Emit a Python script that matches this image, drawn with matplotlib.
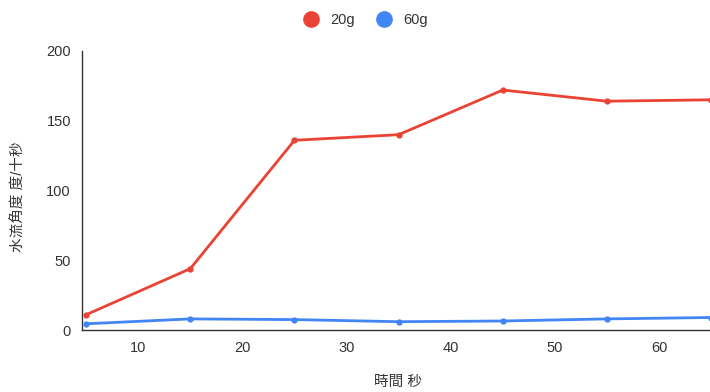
import matplotlib
matplotlib.use("Agg")
import matplotlib.pyplot as plt
from matplotlib.lines import Line2D

plt.rcParams['font.family'] = ['Liberation Sans', 'Noto Sans CJK TC', 'DejaVu Sans']

# 数据
seconds = [5, 15, 25, 35, 45, 55, 65]
g20 = [11, 44, 136, 140, 172, 164, 165]
g60 = [4.5, 8, 7.5, 6, 6.5, 8, 9]
names = ["20g", "60g"]
colors = ["#ea4335", "#4285f4"]

fig = plt.figure(figsize=(7.10, 3.92), dpi=100)
ax = fig.add_axes([0.1155, 0.158, 0.8845, 0.712])

for vals, c in zip([g20, g60], colors):
    ax.plot(seconds, vals, color=c, lw=2, marker="o", ms=3.5, clip_on=False, zorder=3)

ax.set_xlim(4.6, 64.9)
ax.set_ylim(0, 200)
ax.set_xticks([10, 20, 30, 40, 50, 60])
ax.set_yticks([0, 50, 100, 150, 200])
ax.tick_params(length=0, labelsize=10.5, colors="#333333", pad=8)
for s in ["top", "right"]:
    ax.spines[s].set_visible(False)
for s in ["left", "bottom"]:
    ax.spines[s].set_color("#333333")
    ax.spines[s].set_linewidth(1)

fig.text(0.026, 0.497, "水流角度 度/十秒", rotation=90, ha="center", va="center",
         fontsize=10.5, color="#333333")
fig.text(0.561, 0.026, "時間 秒", ha="center", va="center", fontsize=10.5, color="#333333")

handles = [Line2D([], [], ls="", marker="o", ms=11, color=c) for c in colors]
fig.legend(handles, names, loc="center", bbox_to_anchor=(0.51, 0.949), ncol=2,
           frameon=False, fontsize=10.5, handletextpad=0.3, columnspacing=1.0,
           labelcolor="#333333")

fig.savefig("out.png", dpi=100)
